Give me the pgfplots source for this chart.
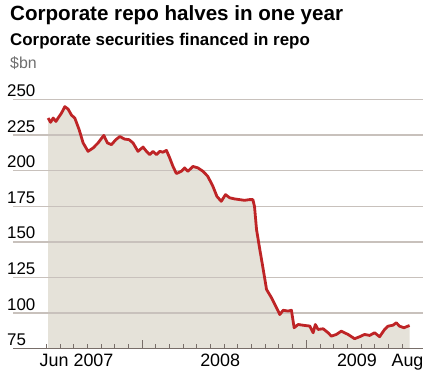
\documentclass[border=0pt]{standalone}
\usepackage{pgfplots}
\pgfplotsset{compat=1.18}
\usepackage{fontspec}
\setmainfont{Liberation Sans}
\definecolor{ftred}{RGB}{190,36,38}
\definecolor{ftfill}{RGB}{229,226,217}
\definecolor{ftgrid}{RGB}{200,193,188}
\definecolor{ftbase}{RGB}{120,110,105}
\definecolor{ftgray}{RGB}{110,110,110}
\pgfplotstableread{
m v
0.12 237
0.30 234
0.49 237
0.69 234.6
0.85 237
1.10 240.5
1.34 245
1.58 243.3
1.83 239
2.07 237
2.39 228.8
2.68 219.5
3.04 213.6
3.41 216
3.77 219.5
4.19 224.8
4.46 219.5
4.75 218.3
5.07 221.8
5.36 224
5.72 222.2
6.04 221.8
6.33 219.5
6.69 213.6
7.06 216.6
7.31 213.6
7.55 211.3
7.79 213.6
8.04 211.3
8.28 213.6
8.52 213
8.77 214.3
9.01 209
9.25 203
9.50 198
9.86 199.6
10.10 202
10.34 199.6
10.71 203
11.07 202
11.44 199.6
11.80 196
12.17 189
12.46 182
12.78 178.5
13.09 183.2
13.39 181
13.75 180.2
14.12 179.7
14.48 179.2
14.85 179.7
15.09 179.7
15.21 175
15.36 158.6
15.60 144.6
15.85 130.6
16.09 116.6
16.45 110.8
16.82 103.8
17.06 99
17.31 102
17.67 101.4
17.91 102
18.11 89.7
18.40 92
18.88 91.3
19.25 90.9
19.50 86.2
19.66 92
19.86 88.5
20.23 89
20.59 86.2
20.83 83.8
21.20 85
21.56 87.3
22.05 85
22.53 82
22.90 83.4
23.26 85
23.63 84.3
23.99 86.2
24.36 83.4
24.72 88.5
24.97 90.8
25.34 91.5
25.58 93.2
25.82 90.8
26.14 89.7
26.55 91.3
}\repo
\begin{document}
\begin{tikzpicture}
\begin{axis}[
  at={(0,0)}, anchor=south west,
  scale only axis, width=411bp, height=249.6bp,
  set layers, axis on top,
  xmin=-2.45, xmax=27.55, ymin=75, ymax=250,
  axis x line*=bottom, axis y line*=left,
  x axis line style={draw=ftbase, line width=1.5bp, -},
  y axis line style={draw=none, -},
  ytick={100,125,...,250},
  ymajorgrids, grid style={color=ftgrid, line width=1.4bp},
  ytick style={draw=none},
  yticklabel style={anchor=base west, inner sep=0pt, xshift=-6bp, yshift=3bp, font=\fontsize{17}{17}\selectfont},
  extra y ticks={75},
  extra y tick style={grid=none},
  /pgf/number format/assume math mode=true,
  xtick={0,1,...,26},
  xticklabels={},
  major tick length=4.5bp,
  minor xtick={7,19},
  minor tick length=9bp,
  extra x ticks={2.2,12.7,22.7,26.4},
  extra x tick labels={Jun 2007,2008,2009,Aug},
  extra x tick style={xtick style={draw=none}, grid=none},
  xticklabel style={anchor=base, inner sep=0pt, yshift=-17.7bp, font=\fontsize{18}{18}\selectfont},
  tick align=inside,
  xtick style={draw=ftbase, line width=1bp},
]
\addplot[fill=ftfill, draw=none] table[x=m,y=v]{\repo} \closedcycle;
\addplot[color=ftred, line width=2.8bp, line join=round, on layer=axis foreground] table[x=m,y=v]{\repo};
\end{axis}
\path (-13bp,-25.7bp) rectangle (411bp,349.3bp);
\node[anchor=base west, inner sep=0pt, font=\bfseries\fontsize{20.7}{20.7}\selectfont] at (-3bp,328.6bp) {Corporate repo halves in one year};
\node[anchor=base west, inner sep=0pt, font=\bfseries\fontsize{17}{17}\selectfont] at (-3bp,303.3bp) {Corporate securities financed in repo};
\node[anchor=base west, inner sep=0pt, text=ftgray, font=\fontsize{16}{16}\selectfont] at (-3bp,281bp) {\$bn};
\end{tikzpicture}
\end{document}
